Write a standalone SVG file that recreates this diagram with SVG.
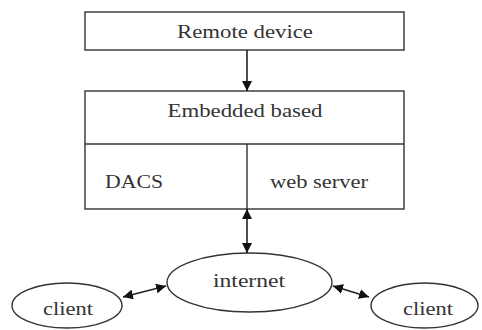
<svg xmlns="http://www.w3.org/2000/svg" width="482" height="330" viewBox="0 0 482 330">
<style>
.box{fill:#fff;stroke:#333;stroke-width:1.4}
.ln{stroke:#222;stroke-width:1.6;fill:none}
text{font-family:"Liberation Serif","Times New Roman",serif;font-size:18px;fill:#333}
.c{text-anchor:middle}
</style>
<defs>
<marker id="ah" viewBox="0 0 10 10" refX="10" refY="5" markerWidth="10" markerHeight="10" markerUnits="userSpaceOnUse" orient="auto-start-reverse">
<path d="M0,0 L10,5 L0,10 z" fill="#111"/>
</marker>
</defs>
<rect width="482" height="330" fill="#fff"/>
<g id="remote-device">
<rect class="box" x="85" y="12" width="319" height="38"/>
<text class="c" x="245" y="38" textLength="136" lengthAdjust="spacingAndGlyphs">Remote device</text>
</g>
<g id="embedded-based">
<rect class="box" x="85" y="91" width="319" height="118"/>
<line x1="85" y1="144" x2="404" y2="144" style="stroke:#333;stroke-width:1.4"/>
<text class="c" x="245" y="117" textLength="155" lengthAdjust="spacingAndGlyphs">Embedded based</text>
</g>
<g id="dacs">
<text x="105" y="188" textLength="58" lengthAdjust="spacingAndGlyphs">DACS</text>
</g>
<g id="web-server">
<line x1="247" y1="144" x2="247" y2="209" style="stroke:#333;stroke-width:1.4"/>
<text x="270" y="188" textLength="98" lengthAdjust="spacingAndGlyphs">web server</text>
</g>
<g id="internet">
<ellipse class="box" cx="249.5" cy="282.5" rx="82.5" ry="29.5"/>
<text class="c" x="249" y="287" textLength="72" lengthAdjust="spacingAndGlyphs">internet</text>
</g>
<g id="client-left">
<ellipse class="box" cx="67" cy="305.5" rx="55" ry="22.5"/>
<text class="c" x="68" y="315" textLength="50" lengthAdjust="spacingAndGlyphs">client</text>
</g>
<g id="client-right">
<ellipse class="box" cx="424.5" cy="305.5" rx="53.5" ry="22.5"/>
<text class="c" x="428" y="315" textLength="50" lengthAdjust="spacingAndGlyphs">client</text>
</g>
<g id="connectors">
<line class="ln" x1="247" y1="50" x2="247" y2="91" marker-end="url(#ah)"/>
<line class="ln" x1="247" y1="209" x2="247" y2="253" marker-start="url(#ah)" marker-end="url(#ah)"/>
<line class="ln" x1="123" y1="297" x2="166" y2="286" marker-start="url(#ah)" marker-end="url(#ah)"/>
<line class="ln" x1="333" y1="286" x2="369" y2="297" marker-start="url(#ah)" marker-end="url(#ah)"/>
</g>
</svg>
